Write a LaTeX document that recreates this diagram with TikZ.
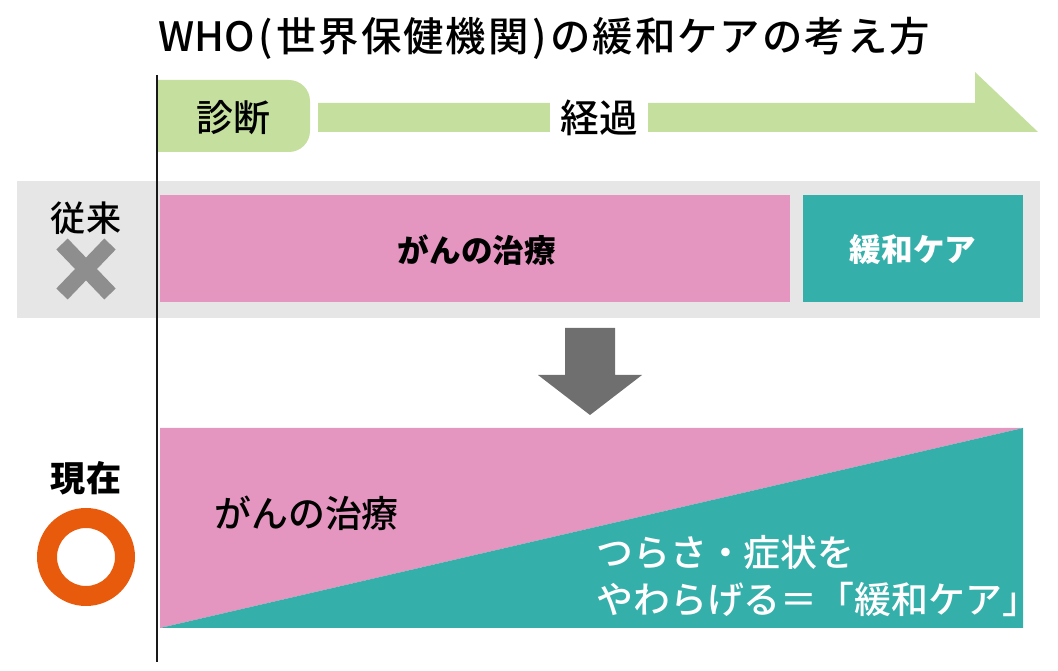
\documentclass[tikz,border=0pt]{standalone}
\usepackage{fontspec}
\setmainfont{Noto Sans CJK JP}
\newfontfamily\medium{Noto Sans CJK JP Medium}
\newfontfamily\black{Noto Sans CJK JP Black}
\definecolor{leaf}{HTML}{C4DF9E}
\definecolor{rose}{HTML}{E596C0}
\definecolor{sea}{HTML}{35AFAA}
\definecolor{band}{HTML}{E6E6E6}
\definecolor{stone}{HTML}{6F6F6F}
\definecolor{ash}{HTML}{8E8E8E}
\definecolor{flame}{HTML}{E85A0C}
\begin{document}
\begin{tikzpicture}[x=0.02cm,y=-0.02cm,
    lbl/.style={inner sep=0pt, font=\medium\fontsize{21}{24}\selectfont},
    heavy/.style={inner sep=0pt, font=\bfseries\fontsize{18}{22}\selectfont},
    big/.style={inner sep=0pt, font=\medium\fontsize{21}{26.7}\selectfont}]

    \useasboundingbox (0,0) rectangle (1058,671);

    % Title
    \node[inner sep=0pt, anchor=west, font=\medium\fontsize{23}{26}\selectfont] (title) at (158,38)
        {WHO\addfontfeature{LetterSpace=5}\hspace{2pt}(\hspace{2pt}世界保健機関\hspace{2pt})\hspace{2pt}の緩和ケアの考え方};

    % Diagnosis and progress
    \begin{scope}
        \clip (157,60) rectangle (400,170);
        \fill[leaf, rounded corners=12] (120,80) rectangle (310,152);
    \end{scope}
    \node[lbl] (diag) at (233,118) {診断};
    \fill[leaf] (318,103) -- (975,103) -- (975,72) -- (1038,132) -- (318,132) -- cycle;
    \node[lbl, fill=white, inner xsep=6pt, inner ysep=2pt, font=\medium\fontsize{22}{24}\selectfont] (prog) at (599,118) {経過};

    % Former view
    \fill[band] (17,181) rectangle (1040,318);
    \fill[rose] (160,195) rectangle (790,302);
    \fill[sea] (803,195) rectangle (1023,302);
    \node[lbl, font=\medium\fontsize{20}{24}\selectfont] (past) at (86,218) {従来};
    \draw[ash, line width=9pt] (62,244) -- (110,294) (110,244) -- (62,294);
    \node[heavy] (pastcure) at (477,250) {がんの治療};
    \node[heavy, text=white] (pastcare) at (913,250) {緩和ケア};

    % Change
    \fill[stone] (565,328) -- (615,328) -- (615,375) -- (642,375) -- (590,415)
        -- (538,375) -- (565,375) -- cycle;

    % Present view
    \fill[rose] (160,428) -- (1023,428) -- (160,628) -- cycle;
    \fill[sea] (1023,428) -- (1023,628) -- (160,628) -- cycle;
    \node[inner sep=0pt, font=\black\fontsize{20}{24}\selectfont] (now) at (86,478) {現在};
    \fill[flame, even odd rule] (86,557) ellipse (49 and 49) (86,557) ellipse (29 and 29);
    \node[big, anchor=west] (nowcure) at (214,513) {がんの治療};
    \node[big, anchor=west, align=left, text=white] (nowcare) at (596,576)
        {つらさ・症状を\\やわらげる＝「緩和ケア」};

    % Time axis
    \draw[line width=1.7pt, black!90] (157,75) -- (157,662);

\end{tikzpicture}
\end{document}
